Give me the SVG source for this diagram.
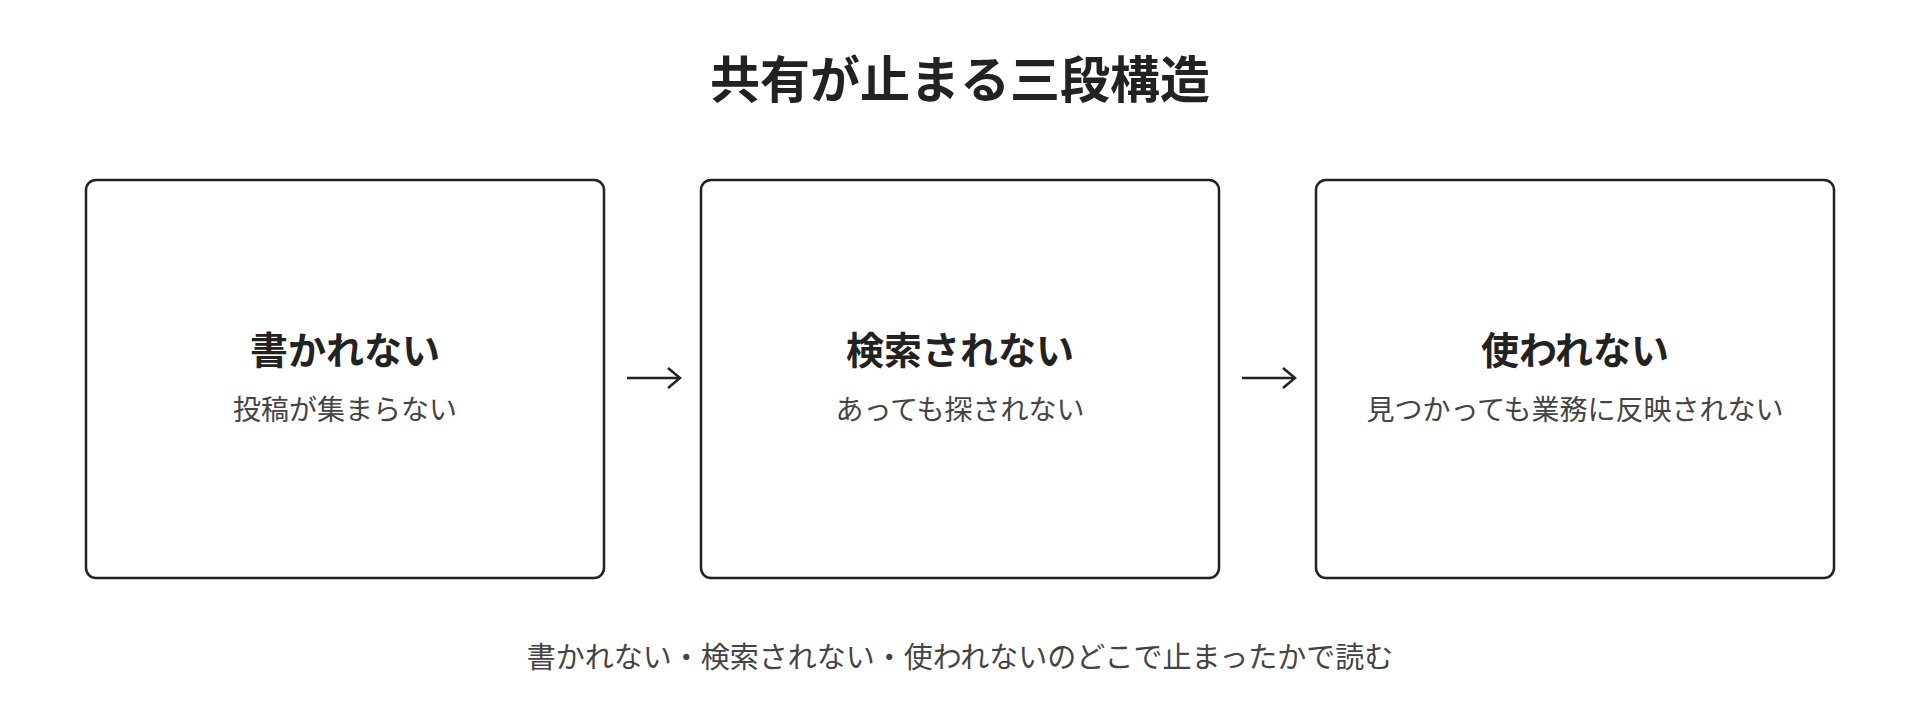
<svg xmlns="http://www.w3.org/2000/svg" width="1920" height="715" viewBox="0 0 1920 715">
<style>
text{font-family:"Noto Sans CJK JP","Noto Sans",sans-serif;text-anchor:middle;fill:#222}
.t{font-size:50px;font-weight:700}
.h{font-size:38px;font-weight:700}
.s{font-size:28px;fill:#444}
.b{font-size:29px;fill:#444}
rect{fill:#fff;stroke:#222;stroke-width:2.5}
.c line,.c path{stroke:#222;stroke-width:2.5;fill:none}
</style>
<rect x="0" y="0" width="1920" height="715" style="stroke:none"/>
<text class="t" x="960" y="98">共有が止まる三段構造</text>
<g id="n1"><rect x="86" y="180" width="518" height="398" rx="10"/><text class="h" x="345" y="364">書かれない</text><text class="s" x="345" y="420">投稿が集まらない</text></g>
<g id="n2"><rect x="701" y="180" width="518" height="398" rx="10"/><text class="h" x="960" y="364">検索されない</text><text class="s" x="960" y="420">あっても探されない</text></g>
<g id="n3"><rect x="1316" y="180" width="518" height="398" rx="10"/><text class="h" x="1575" y="364">使われない</text><text class="s" x="1575" y="420">見つかっても業務に反映されない</text></g>
<g class="c" id="connectors">
<line x1="627" y1="378" x2="679" y2="378"/><path d="M668 368 L680 378 L668 388"/>
<line x1="1242" y1="378" x2="1294" y2="378"/><path d="M1283 368 L1295 378 L1283 388"/>
</g>
<text class="b" x="960" y="668">書かれない・検索されない・使われないのどこで止まったかで読む</text>
</svg>
